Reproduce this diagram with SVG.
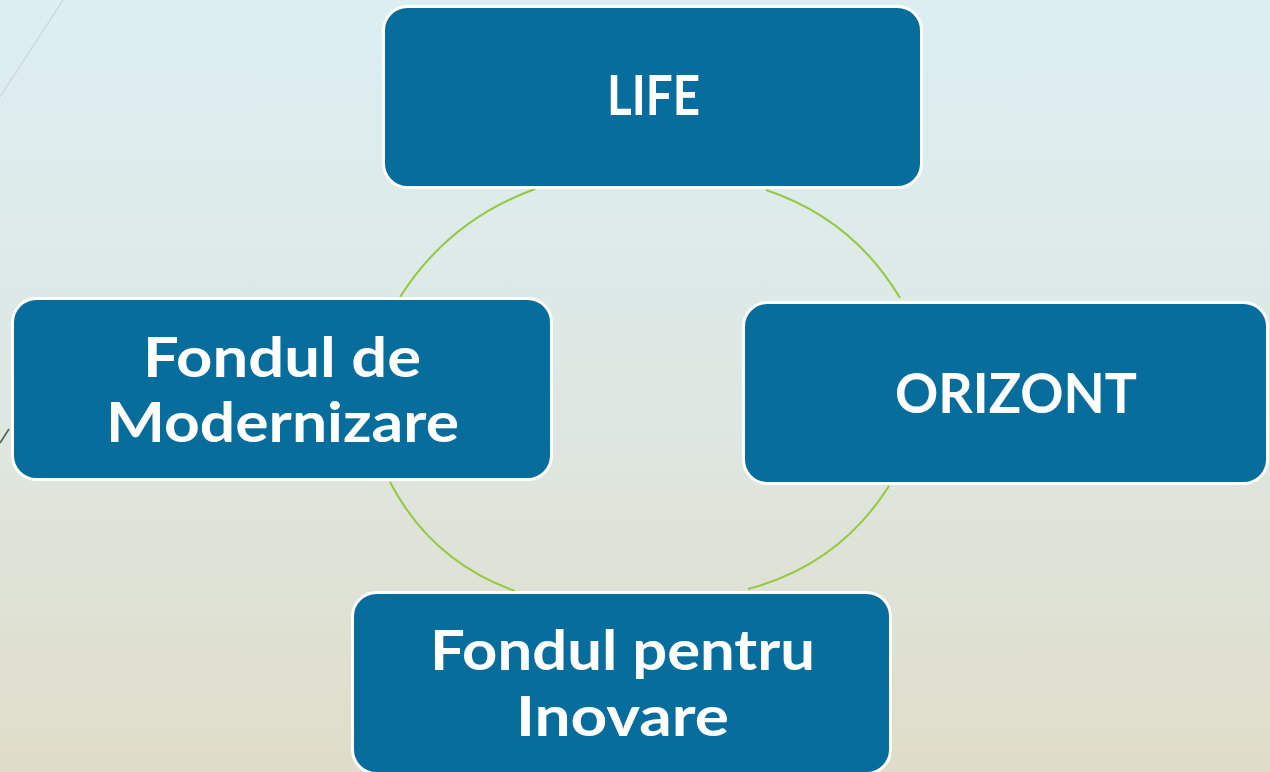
<svg xmlns="http://www.w3.org/2000/svg" width="1270" height="772" viewBox="0 0 1270 772">
<defs>
<linearGradient id="bg" x1="0" y1="0" x2="0" y2="1">
<stop offset="0" stop-color="#DCEEF2"/>
<stop offset="0.5" stop-color="#DEE8E3"/>
<stop offset="1" stop-color="#DFDDC9"/>
</linearGradient>
<style>
.box{fill:#066D9D;stroke:#FFFFFF;stroke-width:3}
.lbl{fill:#FFFFFF;font-family:Lato,"Open Sans",sans-serif;font-weight:bold;font-size:56px;text-anchor:middle}
.arc{fill:none;stroke:#95C83E;stroke-width:2}
</style>
</defs>
<rect width="1270" height="772" fill="url(#bg)"/>
<line x1="63" y1="0" x2="0" y2="97" stroke="#C5CCCC" stroke-width="1"/>
<line x1="0" y1="443" x2="9" y2="429" stroke="#4A5E50" stroke-width="1.5"/>
<g id="connectors">
<path class="arc" d="M400,297 Q449,220 535,189"/>
<path class="arc" d="M766,190 Q853,219 900,298"/>
<path class="arc" d="M390,482 Q431,561 515,591"/>
<path class="arc" d="M889,486 Q839,565 748,589"/>
</g>
<g id="life">
<rect class="box" x="383.5" y="6.5" width="538" height="181" rx="24"/>
<text class="lbl" x="653.5" y="115" textLength="93" lengthAdjust="spacingAndGlyphs">LIFE</text>
</g>
<g id="orizont">
<rect class="box" x="743.5" y="302.5" width="524" height="181" rx="24"/>
<text class="lbl" x="1016" y="413" textLength="242" lengthAdjust="spacingAndGlyphs">ORIZONT</text>
</g>
<g id="modernizare">
<rect class="box" x="12.5" y="298.5" width="539" height="181" rx="24"/>
<text class="lbl" x="282" y="377" textLength="278" lengthAdjust="spacingAndGlyphs">Fondul de</text>
<text class="lbl" x="282.5" y="442" textLength="353" lengthAdjust="spacingAndGlyphs">Modernizare</text>
</g>
<g id="inovare">
<rect class="box" x="352.5" y="592.5" width="538" height="181" rx="24"/>
<text class="lbl" x="622.5" y="670" textLength="385" lengthAdjust="spacingAndGlyphs">Fondul pentru</text>
<text class="lbl" x="622.5" y="736" textLength="213" lengthAdjust="spacingAndGlyphs">Inovare</text>
</g>
</svg>
